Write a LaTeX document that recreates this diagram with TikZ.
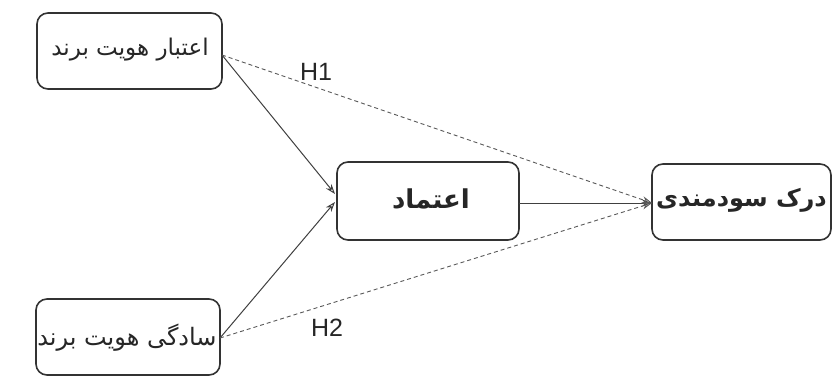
\documentclass[tikz,border=0pt]{standalone}
\usepackage{fontspec}
\setmainfont{Liberation Sans}
\newfontfamily\arabicfont[Script=Arabic]{DejaVu Sans}
\TeXXeTstate=1
\usetikzlibrary{arrows.meta}
\begin{document}
\begin{tikzpicture}[x=1pt,y=-1pt,
  box/.style={draw=black!80, line width=1.6pt, rounded corners=11pt, fill=white},
  conn/.style={draw=black!75, line width=1pt, -{Stealth[length=10pt,width=7pt,open]}},
  hyp/.style={draw=black!65, line width=0.9pt, dashed, dash pattern=on 4pt off 3pt, -{Stealth[length=10pt,width=7pt,open]}},
  lbl/.style={text=black!85, inner sep=0pt}]
\useasboundingbox (0,0) rectangle (832,378);
\fill[white] (0,0) rectangle (832,378);
\draw[box] (37,13) rectangle (222,89);
\node[lbl] (a) at (130,50) {\arabicfont\fontsize{23}{26}\selectfont\beginR اعتبار هویت برند\endR};
\coordinate (aR) at (222,55);
\draw[box] (36,299) rectangle (220,375);
\node[lbl] (b) at (127,338) {\arabicfont\fontsize{24}{26}\selectfont\beginR سادگی هویت برند\endR};
\coordinate (bR) at (220,338);
\draw[box] (337,162) rectangle (519,240);
\node[lbl] (c) at (431,199) {\arabicfont\bfseries\fontsize{26}{30}\selectfont\beginR اعتماد\endR};
\coordinate (cR) at (519,203);
\draw[box] (652,164) rectangle (831,240);
\node[lbl] (d) at (741.5,200) {\arabicfont\bfseries\fontsize{24}{28}\selectfont\beginR درک سودمندی\endR};
\coordinate (dL) at (652,203);
\draw[conn] (aR) -- (335,194);
\draw[conn] (bR) -- (335,202);
\draw[conn] (cR) -- (dL);
\draw[hyp] (aR) -- (dL);
\draw[hyp] (bR) -- (dL);
\node[lbl] (h1) at (316,72) {\fontsize{25}{28}\selectfont H1};
\node[lbl] (h2) at (327,328) {\fontsize{25}{28}\selectfont H2};
\end{tikzpicture}
\end{document}
